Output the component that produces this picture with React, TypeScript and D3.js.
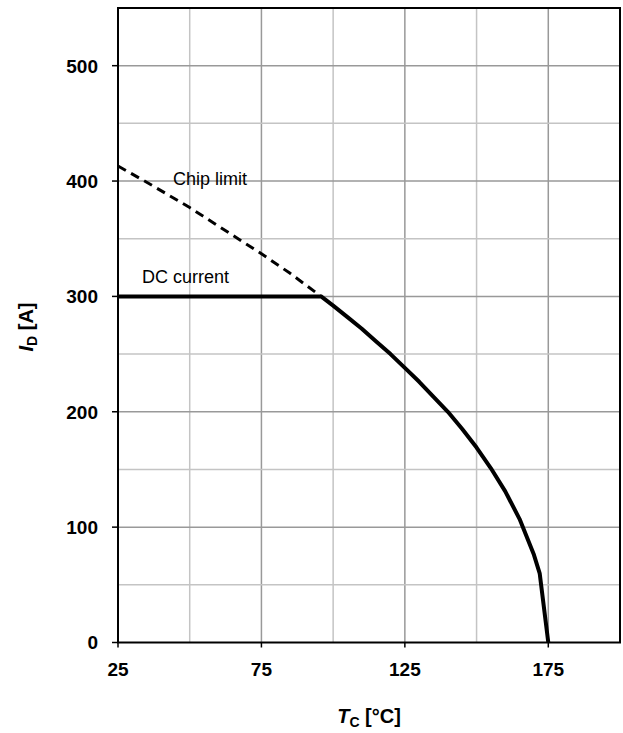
import React from "react";
import * as d3 from "d3";

const xTicksMajor = [25, 75, 125, 175];
const xGrid = [50, 75, 100, 125, 150, 175];
const yTicksMajor = [0, 100, 200, 300, 400, 500];
const yGrid = [50, 100, 150, 200, 250, 300, 350, 400, 450, 500];

// DC current (solid)
const dcT = [25, 95.8, 100, 105, 110, 115, 120, 125, 130, 135, 140, 145, 150, 155, 160, 165, 170, 172, 175];
const dcI = [300, 300, 292, 282, 272, 261, 250, 238, 226, 213, 200, 185, 169, 151, 131, 107, 76, 60, 0];

// Chip limit (dashed)
const chipT = [25, 35, 50, 65, 75, 85, 95.8];
const chipI = [413, 399, 377, 353, 337, 320, 300];

const W = 623;
const H = 733;
const L = 118, R = 620, T = 8, B = 642.5;

export default function App() {
  const x = d3.scaleLinear().domain([25, 200]).range([L, R]);
  const y = d3.scaleLinear().domain([0, 550]).range([B, T]);
  const line = d3
    .line<[number, number]>()
    .x((d) => x(d[0]))
    .y((d) => y(d[1]));
  const dcData: [number, number][] = dcT.map((t, i) => [t, dcI[i]]);
  const chipData: [number, number][] = chipT.map((t, i) => [t, chipI[i]]);
  const font = "Arial, 'Liberation Sans', Helvetica, sans-serif";
  const major = (v: number, arr: number[]) => arr.includes(v);

  return (
    <svg
      width={W}
      height={H}
      style={{ position: "absolute", left: 0, top: 0, background: "#fff" }}
      fontFamily={font}
    >
      <rect x={0} y={0} width={W} height={H} fill="#fff" />
      {xGrid.map((v) => (
        <line
          key={"gx" + v}
          x1={x(v)}
          x2={x(v)}
          y1={T}
          y2={B}
          stroke={major(v, xTicksMajor) ? "#999" : "#c4c4c4"}
          strokeWidth={1.5}
        />
      ))}
      {yGrid.map((v) => (
        <line
          key={"gy" + v}
          x1={L}
          x2={R}
          y1={y(v)}
          y2={y(v)}
          stroke={major(v, yTicksMajor) ? "#999" : "#c4c4c4"}
          strokeWidth={1.5}
        />
      ))}
      <rect x={L} y={T} width={R - L} height={B - T} fill="none" stroke="#000" strokeWidth={2} />
      {yTicksMajor.map((v) => (
        <g key={"yt" + v}>
          <line x1={L - 6} x2={L} y1={y(v)} y2={y(v)} stroke="#000" strokeWidth={1.5} />
          <text
            x={L - 20}
            y={y(v)}
            dy="0.36em"
            textAnchor="end"
            fontWeight="bold"
            fontSize={19}
            fill="#000"
          >
            {v}
          </text>
        </g>
      ))}
      {xTicksMajor.map((v) => (
        <g key={"xt" + v}>
          <line x1={x(v)} x2={x(v)} y1={B} y2={B + 5} stroke="#000" strokeWidth={1.5} />
          <text
            x={x(v)}
            y={B + 33}
            textAnchor="middle"
            fontWeight="bold"
            fontSize={19}
            fill="#000"
          >
            {v}
          </text>
        </g>
      ))}
      <path
        d={line(chipData) || ""}
        fill="none"
        stroke="#000"
        strokeWidth={3}
        strokeDasharray="9,6"
      />
      <path d={line(dcData) || ""} fill="none" stroke="#000" strokeWidth={4} strokeLinejoin="round" />
      <text x={x(44.2)} y={y(397)} fontSize={18} fill="#000">
        Chip limit
      </text>
      <text x={x(33.4)} y={y(312)} fontSize={18} fill="#000">
        DC current
      </text>
      <text
        x={(L + R) / 2}
        y={723}
        textAnchor="middle"
        fontWeight="bold"
        fontSize={20}
        fill="#000"
      >
        <tspan fontStyle="italic">T</tspan>
        <tspan fontSize={14} dy={4}>C</tspan>
        <tspan dy={-4}> [°C]</tspan>
      </text>
      <text
        transform={`translate(33, 327) rotate(-90)`}
        textAnchor="middle"
        fontWeight="bold"
        fontSize={20}
        fill="#000"
      >
        <tspan fontStyle="italic">I</tspan>
        <tspan fontSize={14} dy={4}>D</tspan>
        <tspan dy={-4}> [A]</tspan>
      </text>
    </svg>
  );
}
